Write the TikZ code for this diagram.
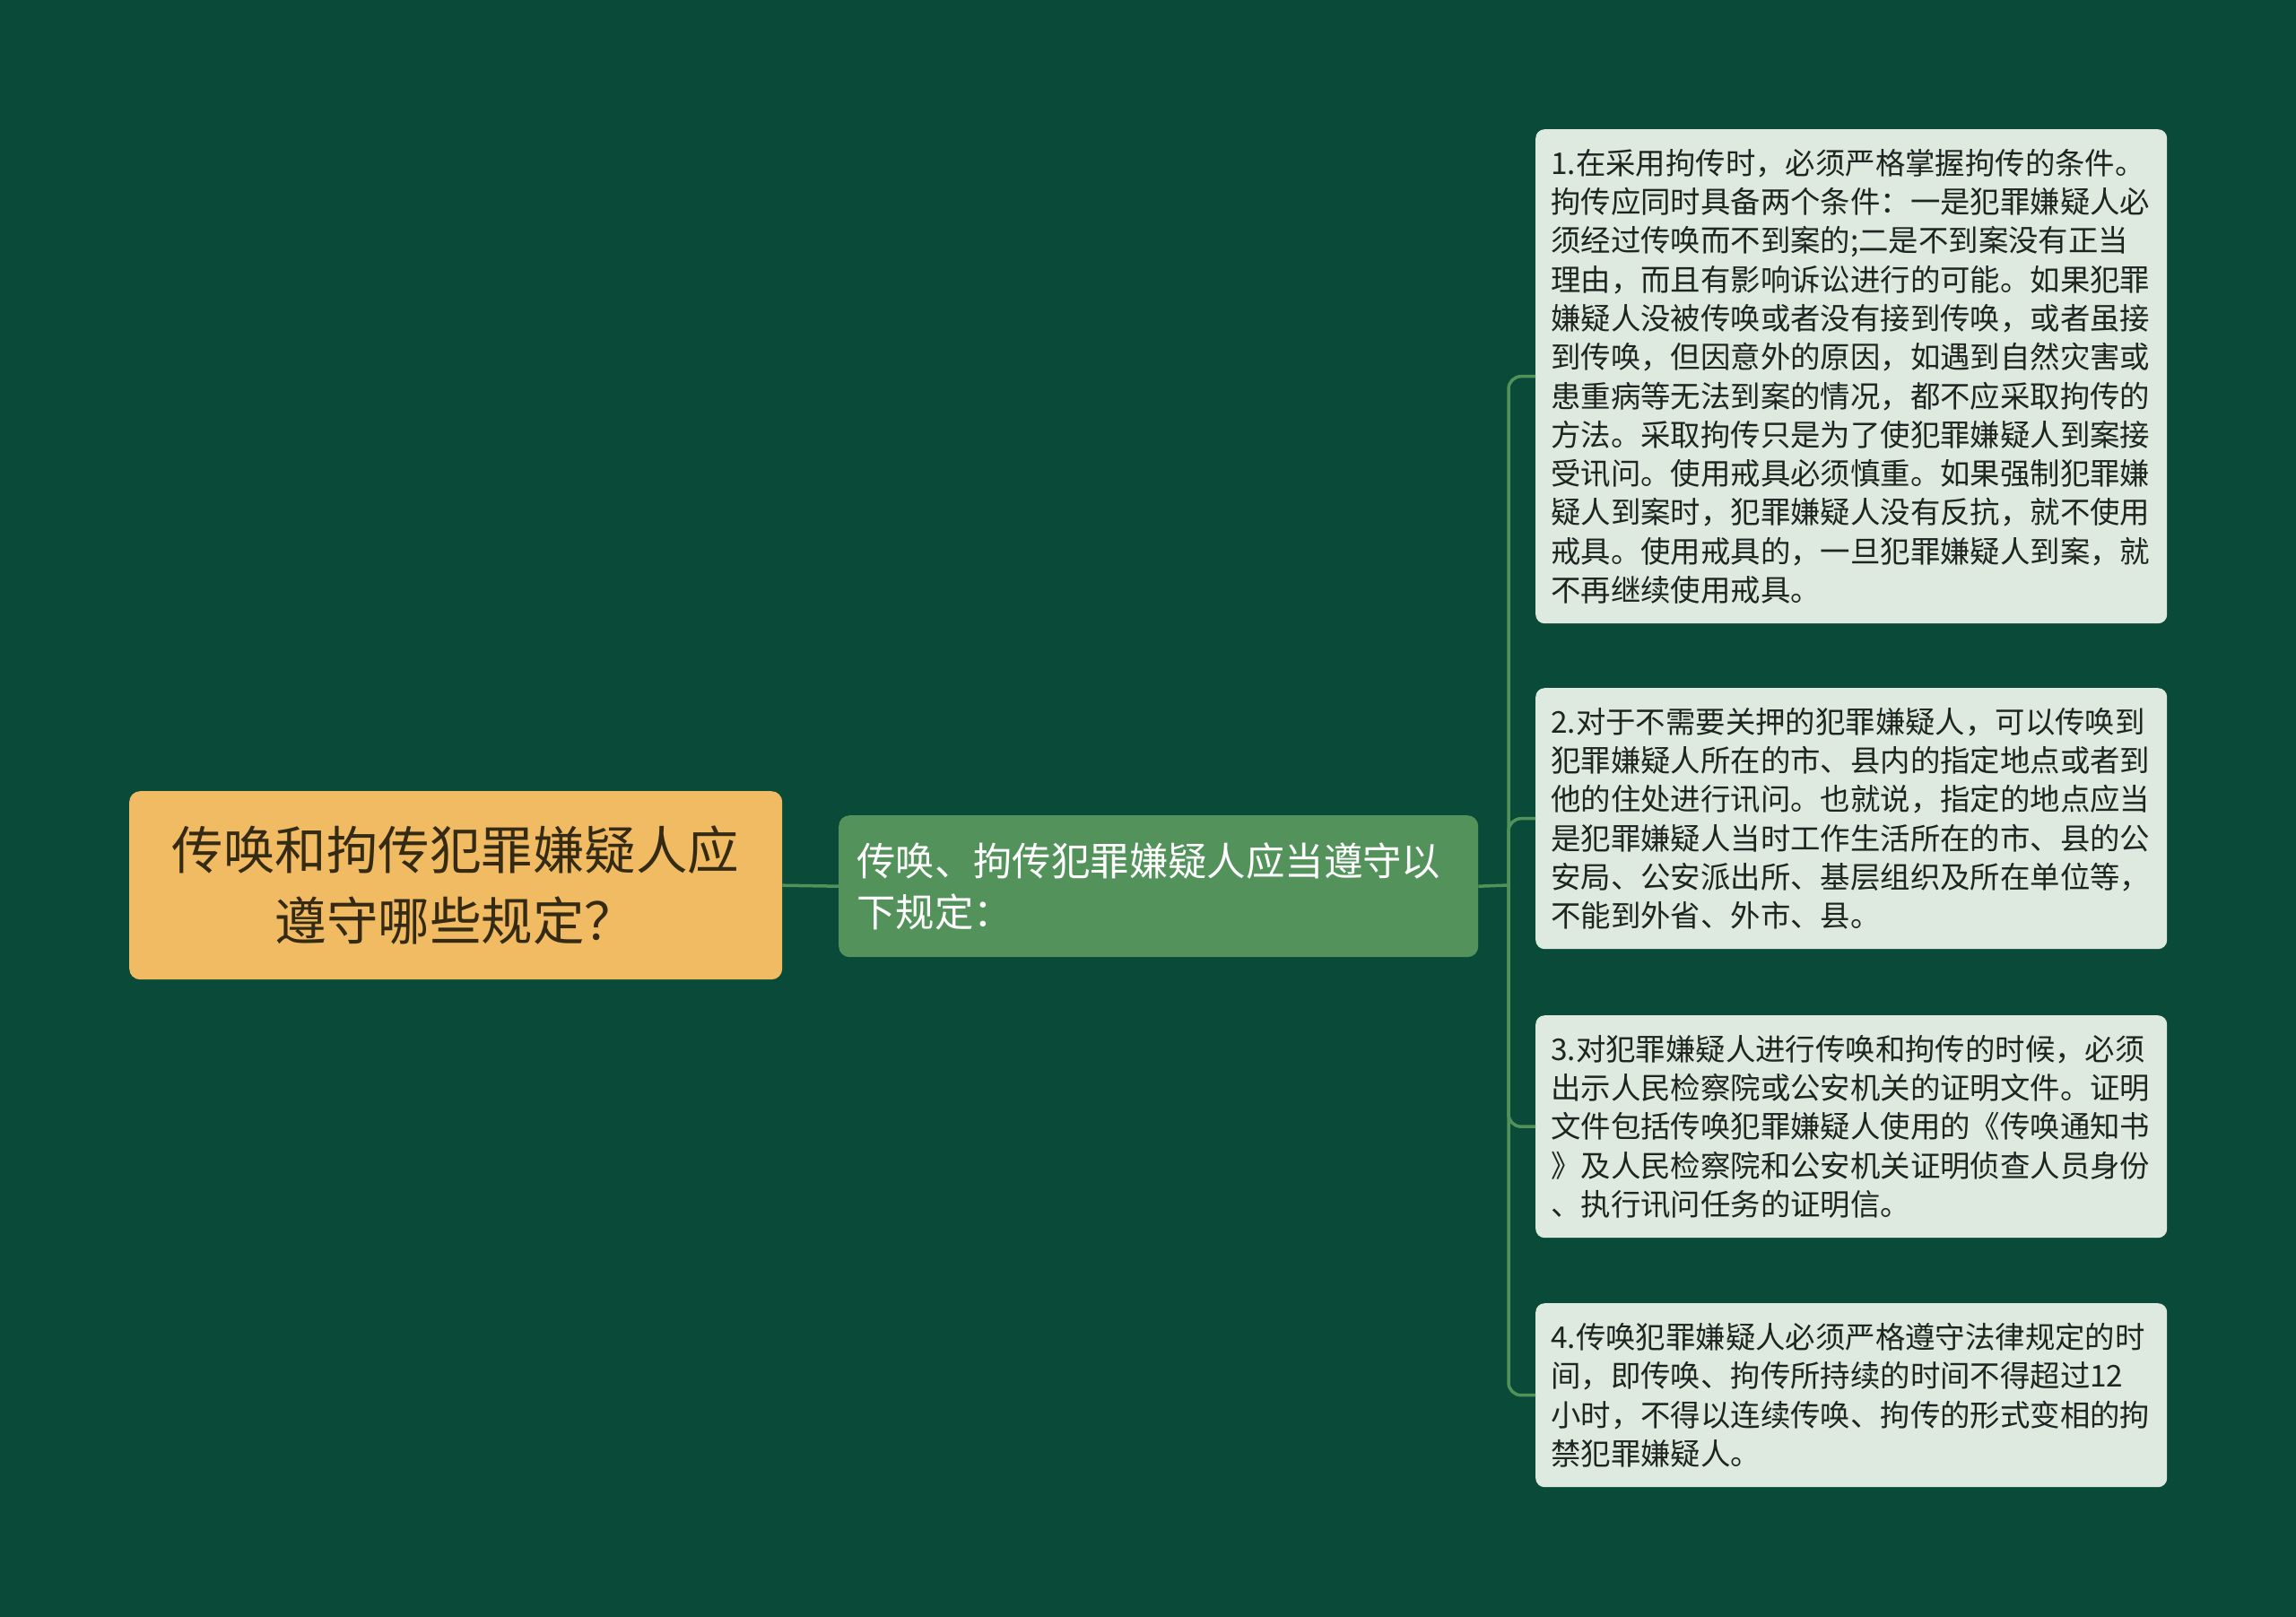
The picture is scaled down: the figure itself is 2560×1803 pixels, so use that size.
\documentclass[tikz,border=0pt]{standalone}
\usepackage{fontspec}
\setmainfont{Noto Sans CJK SC}
\definecolor{bg}{HTML}{0A4A38}
\definecolor{linec}{HTML}{52925A}
\definecolor{rootc}{HTML}{F0BB63}
\definecolor{roott}{HTML}{352A14}
\definecolor{midc}{HTML}{53935B}
\definecolor{leafc}{HTML}{DEE9E0}
\definecolor{leaft}{HTML}{1E2520}
\begin{document}
\begin{tikzpicture}[x=1pt,y=-1pt,
  rootbox/.style={fill=rootc, rounded corners=12pt, anchor=north west, inner sep=0pt,
    minimum width=728pt, minimum height=210pt, align=center, text=roott,
    font=\fontsize{57.5}{79}\selectfont},
  midbox/.style={fill=midc, rounded corners=12pt, anchor=north west, inner xsep=20pt, inner ysep=0pt,
    text width=673pt, minimum height=158pt, align=left, text=white,
    font=\fontsize{43.4}{57}\selectfont},
  leafbox/.style={fill=leafc, rounded corners=10pt, anchor=north west, inner xsep=17pt, inner ysep=0pt,
    text width=670pt, align=left, text=leaft,
    font=\fontsize{33.4}{43.3}\selectfont},
  conn/.style={draw=linec, line width=3.5pt},
  branch/.style={conn, rounded corners=14pt}]
\path[use as bounding box, fill=bg] (0,0) rectangle (2560,1803);

\node[rootbox] (root) at (144,882) {传唤和拘传犯罪嫌疑人应\\遵守哪些规定？};
\node[midbox] (mid) at (935,909) {传唤、拘传犯罪嫌疑人应当遵守以\\下规定：};

\node[leafbox, minimum height=551pt] (l1) at (1712,144) {1.在采用拘传时，必须严格掌握拘传的条件。\\拘传应同时具备两个条件：一是犯罪嫌疑人必\\须经过传唤而不到案的;二是不到案没有正当\\理由，而且有影响诉讼进行的可能。如果犯罪\\嫌疑人没被传唤或者没有接到传唤，或者虽接\\到传唤，但因意外的原因，如遇到自然灾害或\\患重病等无法到案的情况，都不应采取拘传的\\方法。采取拘传只是为了使犯罪嫌疑人到案接\\受讯问。使用戒具必须慎重。如果强制犯罪嫌\\疑人到案时，犯罪嫌疑人没有反抗，就不使用\\戒具。使用戒具的，一旦犯罪嫌疑人到案，就\\不再继续使用戒具。};
\node[leafbox, minimum height=291pt] (l2) at (1712,767) {2.对于不需要关押的犯罪嫌疑人，可以传唤到\\犯罪嫌疑人所在的市、县内的指定地点或者到\\他的住处进行讯问。也就说，指定的地点应当\\是犯罪嫌疑人当时工作生活所在的市、县的公\\安局、公安派出所、基层组织及所在单位等，\\不能到外省、外市、县。};
\node[leafbox, minimum height=248pt] (l3) at (1712,1132) {3.对犯罪嫌疑人进行传唤和拘传的时候，必须\\出示人民检察院或公安机关的证明文件。证明\\文件包括传唤犯罪嫌疑人使用的《传唤通知书\\》及人民检察院和公安机关证明侦查人员身份\\、执行讯问任务的证明信。};
\node[leafbox, minimum height=205pt] (l4) at (1712,1453) {4.传唤犯罪嫌疑人必须严格遵守法律规定的时\\间，即传唤、拘传所持续的时间不得超过12\\小时，不得以连续传唤、拘传的形式变相的拘\\禁犯罪嫌疑人。};

\coordinate (trunk) at (1682,987);
\draw[conn] (root.east) -- (mid.west);
\draw[conn] (mid.east) -- (trunk);
\foreach \n in {l1,l2,l3,l4}{
  \draw[branch] (trunk) |- (\n.west);
}
\end{tikzpicture}
\end{document}
